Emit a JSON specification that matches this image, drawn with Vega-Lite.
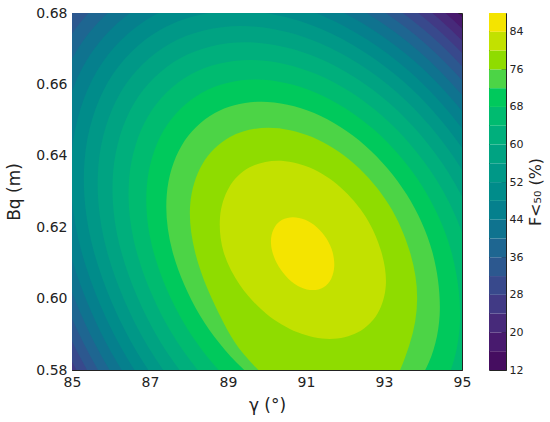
{
  "$schema": "https://vega.github.io/schema/vega-lite/v6.json",
  "padding": {"left": 5, "top": 5, "right": 3, "bottom": 5},
  "background": "white",
  "config": {
    "font": "DejaVu Sans",
    "view": {"stroke": "#222222", "strokeWidth": 1},
    "axis": {
      "grid": false,
      "domain": false,
      "tickColor": "#222222",
      "tickSize": -5,
      "labelColor": "#222222",
      "titleColor": "#222222",
      "labelFont": "DejaVu Sans",
      "titleFont": "DejaVu Sans",
      "labelFontSize": 14,
      "titleFontSize": 17,
      "titleFontWeight": "normal",
      "labelFlush": false,
      "labelOverlap": false
    }
  },
  "spacing": 16,
  "resolve": {"scale": {"color": "independent"}},
  "hconcat": [
    {
      "width": 390,
      "height": 357,
      "view": {"fill": "#450d60", "stroke": "#222222"},
      "data": {"values": [
        {"L":16,"k":0,"x":98.660,"y":0.61305},{"L":16,"k":1,"x":97.131,"y":0.65056},{"L":16,"k":2,"x":94.655,"y":0.68235},{"L":16,"k":3,"x":91.609,"y":0.70360},{"L":16,"k":4,"x":88.457,"y":0.71106},{"L":16,"k":5,"x":85.678,"y":0.70360},{"L":16,"k":6,"x":83.696,"y":0.68235},{"L":16,"k":7,"x":82.812,"y":0.65056},{"L":16,"k":8,"x":83.160,"y":0.61305},{"L":16,"k":9,"x":84.776,"y":0.57207},{"L":16,"k":10,"x":87.325,"y":0.53733},{"L":16,"k":11,"x":90.421,"y":0.51412},{"L":16,"k":12,"x":93.590,"y":0.50596},{"L":16,"k":13,"x":96.352,"y":0.51412},{"L":16,"k":14,"x":98.285,"y":0.53733},{"L":16,"k":15,"x":99.095,"y":0.57207},
        {"L":20,"k":0,"x":98.430,"y":0.61305},{"L":20,"k":1,"x":96.947,"y":0.64945},{"L":20,"k":2,"x":94.544,"y":0.68030},{"L":20,"k":3,"x":91.589,"y":0.70092},{"L":20,"k":4,"x":88.529,"y":0.70816},{"L":20,"k":5,"x":85.833,"y":0.70092},{"L":20,"k":6,"x":83.909,"y":0.68030},{"L":20,"k":7,"x":83.051,"y":0.64945},{"L":20,"k":8,"x":83.390,"y":0.61305},{"L":20,"k":9,"x":84.957,"y":0.57328},{"L":20,"k":10,"x":87.431,"y":0.53956},{"L":20,"k":11,"x":90.435,"y":0.51704},{"L":20,"k":12,"x":93.511,"y":0.50913},{"L":20,"k":13,"x":96.191,"y":0.51704},{"L":20,"k":14,"x":98.067,"y":0.53956},{"L":20,"k":15,"x":98.853,"y":0.57328},
        {"L":24,"k":0,"x":98.194,"y":0.61305},{"L":24,"k":1,"x":96.757,"y":0.64830},{"L":24,"k":2,"x":94.430,"y":0.67819},{"L":24,"k":3,"x":91.567,"y":0.69816},{"L":24,"k":4,"x":88.604,"y":0.70517},{"L":24,"k":5,"x":85.992,"y":0.69816},{"L":24,"k":6,"x":84.129,"y":0.67819},{"L":24,"k":7,"x":83.298,"y":0.64830},{"L":24,"k":8,"x":83.626,"y":0.61305},{"L":24,"k":9,"x":85.144,"y":0.57453},{"L":24,"k":10,"x":87.541,"y":0.54187},{"L":24,"k":11,"x":90.450,"y":0.52006},{"L":24,"k":12,"x":93.429,"y":0.51239},{"L":24,"k":13,"x":96.025,"y":0.52006},{"L":24,"k":14,"x":97.842,"y":0.54187},{"L":24,"k":15,"x":98.604,"y":0.57453},
        {"L":28,"k":0,"x":97.950,"y":0.61305},{"L":28,"k":1,"x":96.561,"y":0.64712},{"L":28,"k":2,"x":94.312,"y":0.67601},{"L":28,"k":3,"x":91.545,"y":0.69531},{"L":28,"k":4,"x":88.682,"y":0.70208},{"L":28,"k":5,"x":86.157,"y":0.69531},{"L":28,"k":6,"x":84.356,"y":0.67601},{"L":28,"k":7,"x":83.553,"y":0.64712},{"L":28,"k":8,"x":83.870,"y":0.61305},{"L":28,"k":9,"x":85.338,"y":0.57582},{"L":28,"k":10,"x":87.654,"y":0.54426},{"L":28,"k":11,"x":90.465,"y":0.52317},{"L":28,"k":12,"x":93.345,"y":0.51577},{"L":28,"k":13,"x":95.853,"y":0.52317},{"L":28,"k":14,"x":97.610,"y":0.54426},{"L":28,"k":15,"x":98.346,"y":0.57582},
        {"L":32,"k":0,"x":97.697,"y":0.61305},{"L":32,"k":1,"x":96.358,"y":0.64590},{"L":32,"k":2,"x":94.190,"y":0.67375},{"L":32,"k":3,"x":91.522,"y":0.69235},{"L":32,"k":4,"x":88.762,"y":0.69888},{"L":32,"k":5,"x":86.328,"y":0.69235},{"L":32,"k":6,"x":84.592,"y":0.67375},{"L":32,"k":7,"x":83.818,"y":0.64590},{"L":32,"k":8,"x":84.123,"y":0.61305},{"L":32,"k":9,"x":85.538,"y":0.57716},{"L":32,"k":10,"x":87.771,"y":0.54673},{"L":32,"k":11,"x":90.481,"y":0.52640},{"L":32,"k":12,"x":93.257,"y":0.51926},{"L":32,"k":13,"x":95.676,"y":0.52640},{"L":32,"k":14,"x":97.369,"y":0.54673},{"L":32,"k":15,"x":98.079,"y":0.57716},
        {"L":36,"k":0,"x":97.434,"y":0.61305},{"L":36,"k":1,"x":96.147,"y":0.64463},{"L":36,"k":2,"x":94.063,"y":0.67140},{"L":36,"k":3,"x":91.499,"y":0.68928},{"L":36,"k":4,"x":88.845,"y":0.69556},{"L":36,"k":5,"x":86.505,"y":0.68928},{"L":36,"k":6,"x":84.836,"y":0.67140},{"L":36,"k":7,"x":84.092,"y":0.64463},{"L":36,"k":8,"x":84.386,"y":0.61305},{"L":36,"k":9,"x":85.746,"y":0.57855},{"L":36,"k":10,"x":87.892,"y":0.54930},{"L":36,"k":11,"x":90.498,"y":0.52976},{"L":36,"k":12,"x":93.166,"y":0.52289},{"L":36,"k":13,"x":95.491,"y":0.52976},{"L":36,"k":14,"x":97.119,"y":0.54930},{"L":36,"k":15,"x":97.801,"y":0.57855},
        {"L":40,"k":0,"x":97.161,"y":0.61305},{"L":40,"k":1,"x":95.928,"y":0.64330},{"L":40,"k":2,"x":93.931,"y":0.66895},{"L":40,"k":3,"x":91.474,"y":0.68608},{"L":40,"k":4,"x":88.931,"y":0.69210},{"L":40,"k":5,"x":86.690,"y":0.68608},{"L":40,"k":6,"x":85.091,"y":0.66895},{"L":40,"k":7,"x":84.378,"y":0.64330},{"L":40,"k":8,"x":84.660,"y":0.61305},{"L":40,"k":9,"x":85.963,"y":0.58000},{"L":40,"k":10,"x":88.019,"y":0.55197},{"L":40,"k":11,"x":90.515,"y":0.53325},{"L":40,"k":12,"x":93.072,"y":0.52668},{"L":40,"k":13,"x":95.299,"y":0.53325},{"L":40,"k":14,"x":96.858,"y":0.55197},{"L":40,"k":15,"x":97.512,"y":0.58000},
        {"L":44,"k":0,"x":96.874,"y":0.61305},{"L":44,"k":1,"x":95.698,"y":0.64192},{"L":44,"k":2,"x":93.792,"y":0.66639},{"L":44,"k":3,"x":91.448,"y":0.68274},{"L":44,"k":4,"x":89.022,"y":0.68848},{"L":44,"k":5,"x":86.883,"y":0.68274},{"L":44,"k":6,"x":85.358,"y":0.66639},{"L":44,"k":7,"x":84.677,"y":0.64192},{"L":44,"k":8,"x":84.946,"y":0.61305},{"L":44,"k":9,"x":86.189,"y":0.58151},{"L":44,"k":10,"x":88.151,"y":0.55477},{"L":44,"k":11,"x":90.533,"y":0.53691},{"L":44,"k":12,"x":92.973,"y":0.53063},{"L":44,"k":13,"x":95.098,"y":0.53691},{"L":44,"k":14,"x":96.586,"y":0.55477},{"L":44,"k":15,"x":97.210,"y":0.58151},
        {"L":48,"k":0,"x":96.573,"y":0.61305},{"L":48,"k":1,"x":95.456,"y":0.64046},{"L":48,"k":2,"x":93.647,"y":0.66370},{"L":48,"k":3,"x":91.421,"y":0.67922},{"L":48,"k":4,"x":89.117,"y":0.68467},{"L":48,"k":5,"x":87.087,"y":0.67922},{"L":48,"k":6,"x":85.638,"y":0.66370},{"L":48,"k":7,"x":84.992,"y":0.64046},{"L":48,"k":8,"x":85.247,"y":0.61305},{"L":48,"k":9,"x":86.427,"y":0.58310},{"L":48,"k":10,"x":88.290,"y":0.55771},{"L":48,"k":11,"x":90.552,"y":0.54075},{"L":48,"k":12,"x":92.869,"y":0.53479},{"L":48,"k":13,"x":94.887,"y":0.54075},{"L":48,"k":14,"x":96.300,"y":0.55771},{"L":48,"k":15,"x":96.892,"y":0.58310},
        {"L":52,"k":0,"x":96.256,"y":0.61305},{"L":52,"k":1,"x":95.201,"y":0.63892},{"L":52,"k":2,"x":93.493,"y":0.66085},{"L":52,"k":3,"x":91.392,"y":0.67551},{"L":52,"k":4,"x":89.218,"y":0.68066},{"L":52,"k":5,"x":87.301,"y":0.67551},{"L":52,"k":6,"x":85.934,"y":0.66085},{"L":52,"k":7,"x":85.324,"y":0.63892},{"L":52,"k":8,"x":85.564,"y":0.61305},{"L":52,"k":9,"x":86.679,"y":0.58478},{"L":52,"k":10,"x":88.437,"y":0.56082},{"L":52,"k":11,"x":90.572,"y":0.54481},{"L":52,"k":12,"x":92.759,"y":0.53918},{"L":52,"k":13,"x":94.664,"y":0.54481},{"L":52,"k":14,"x":95.997,"y":0.56082},{"L":52,"k":15,"x":96.556,"y":0.58478},
        {"L":56,"k":0,"x":95.918,"y":0.61305},{"L":56,"k":1,"x":94.930,"y":0.63729},{"L":56,"k":2,"x":93.330,"y":0.65783},{"L":56,"k":3,"x":91.362,"y":0.67156},{"L":56,"k":4,"x":89.325,"y":0.67638},{"L":56,"k":5,"x":87.529,"y":0.67156},{"L":56,"k":6,"x":86.248,"y":0.65783},{"L":56,"k":7,"x":85.677,"y":0.63729},{"L":56,"k":8,"x":85.902,"y":0.61305},{"L":56,"k":9,"x":86.946,"y":0.58657},{"L":56,"k":10,"x":88.594,"y":0.56412},{"L":56,"k":11,"x":90.594,"y":0.54912},{"L":56,"k":12,"x":92.642,"y":0.54385},{"L":56,"k":13,"x":94.427,"y":0.54912},{"L":56,"k":14,"x":95.676,"y":0.56412},{"L":56,"k":15,"x":96.199,"y":0.58657},
        {"L":60,"k":0,"x":95.556,"y":0.61305},{"L":60,"k":1,"x":94.639,"y":0.63553},{"L":60,"k":2,"x":93.155,"y":0.65459},{"L":60,"k":3,"x":91.329,"y":0.66733},{"L":60,"k":4,"x":89.440,"y":0.67180},{"L":60,"k":5,"x":87.774,"y":0.66733},{"L":60,"k":6,"x":86.585,"y":0.65459},{"L":60,"k":7,"x":86.055,"y":0.63553},{"L":60,"k":8,"x":86.265,"y":0.61305},{"L":60,"k":9,"x":87.233,"y":0.58848},{"L":60,"k":10,"x":88.761,"y":0.56766},{"L":60,"k":11,"x":90.617,"y":0.55374},{"L":60,"k":12,"x":92.517,"y":0.54886},{"L":60,"k":13,"x":94.172,"y":0.55374},{"L":60,"k":14,"x":95.331,"y":0.56766},{"L":60,"k":15,"x":95.817,"y":0.58848},
        {"L":64,"k":0,"x":95.162,"y":0.61305},{"L":64,"k":1,"x":94.324,"y":0.63363},{"L":64,"k":2,"x":92.965,"y":0.65108},{"L":64,"k":3,"x":91.294,"y":0.66274},{"L":64,"k":4,"x":89.564,"y":0.66683},{"L":64,"k":5,"x":88.039,"y":0.66274},{"L":64,"k":6,"x":86.951,"y":0.65108},{"L":64,"k":7,"x":86.466,"y":0.63363},{"L":64,"k":8,"x":86.658,"y":0.61305},{"L":64,"k":9,"x":87.544,"y":0.59056},{"L":64,"k":10,"x":88.943,"y":0.57150},{"L":64,"k":11,"x":90.641,"y":0.55876},{"L":64,"k":12,"x":92.381,"y":0.55429},{"L":64,"k":13,"x":93.896,"y":0.55876},{"L":64,"k":14,"x":94.957,"y":0.57150},{"L":64,"k":15,"x":95.402,"y":0.59056},
        {"L":68,"k":0,"x":94.729,"y":0.61305},{"L":68,"k":1,"x":93.976,"y":0.63153},{"L":68,"k":2,"x":92.756,"y":0.64720},{"L":68,"k":3,"x":91.255,"y":0.65767},{"L":68,"k":4,"x":89.701,"y":0.66135},{"L":68,"k":5,"x":88.332,"y":0.65767},{"L":68,"k":6,"x":87.355,"y":0.64720},{"L":68,"k":7,"x":86.919,"y":0.63153},{"L":68,"k":8,"x":87.091,"y":0.61305},{"L":68,"k":9,"x":87.887,"y":0.59285},{"L":68,"k":10,"x":89.144,"y":0.57573},{"L":68,"k":11,"x":90.669,"y":0.56429},{"L":68,"k":12,"x":92.231,"y":0.56028},{"L":68,"k":13,"x":93.592,"y":0.56429},{"L":68,"k":14,"x":94.544,"y":0.57573},{"L":68,"k":15,"x":94.944,"y":0.59285},
        {"L":72,"k":0,"x":94.240,"y":0.61305},{"L":72,"k":1,"x":93.583,"y":0.62917},{"L":72,"k":2,"x":92.519,"y":0.64283},{"L":72,"k":3,"x":91.210,"y":0.65196},{"L":72,"k":4,"x":89.856,"y":0.65516},{"L":72,"k":5,"x":88.662,"y":0.65196},{"L":72,"k":6,"x":87.810,"y":0.64283},{"L":72,"k":7,"x":87.430,"y":0.62917},{"L":72,"k":8,"x":87.580,"y":0.61305},{"L":72,"k":9,"x":88.274,"y":0.59544},{"L":72,"k":10,"x":89.370,"y":0.58051},{"L":72,"k":11,"x":90.700,"y":0.57054},{"L":72,"k":12,"x":92.062,"y":0.56704},{"L":72,"k":13,"x":93.248,"y":0.57054},{"L":72,"k":14,"x":94.079,"y":0.58051},{"L":72,"k":15,"x":94.427,"y":0.59544},
        {"L":76,"k":0,"x":93.665,"y":0.61305},{"L":76,"k":1,"x":93.122,"y":0.62638},{"L":76,"k":2,"x":92.241,"y":0.63769},{"L":76,"k":3,"x":91.159,"y":0.64524},{"L":76,"k":4,"x":90.038,"y":0.64789},{"L":76,"k":5,"x":89.050,"y":0.64524},{"L":76,"k":6,"x":88.345,"y":0.63769},{"L":76,"k":7,"x":88.031,"y":0.62638},{"L":76,"k":8,"x":88.155,"y":0.61305},{"L":76,"k":9,"x":88.650,"y":0.59850},{"L":76,"k":10,"x":89.400,"y":0.58450},{"L":76,"k":11,"x":90.600,"y":0.57300},{"L":76,"k":12,"x":91.900,"y":0.57000},{"L":76,"k":13,"x":93.050,"y":0.57400},{"L":76,"k":14,"x":93.650,"y":0.58700},{"L":76,"k":15,"x":93.850,"y":0.60000},
        {"L":80,"k":0,"x":92.933,"y":0.61305},{"L":80,"k":1,"x":92.534,"y":0.62284},{"L":80,"k":2,"x":91.888,"y":0.63114},{"L":80,"k":3,"x":91.093,"y":0.63669},{"L":80,"k":4,"x":90.270,"y":0.63863},{"L":80,"k":5,"x":89.544,"y":0.63669},{"L":80,"k":6,"x":89.027,"y":0.63114},{"L":80,"k":7,"x":88.796,"y":0.62284},{"L":80,"k":8,"x":88.887,"y":0.61305},{"L":80,"k":9,"x":89.309,"y":0.60373},{"L":80,"k":10,"x":89.974,"y":0.59583},{"L":80,"k":11,"x":90.782,"y":0.59055},{"L":80,"k":12,"x":91.610,"y":0.58870},{"L":80,"k":13,"x":92.331,"y":0.59055},{"L":80,"k":14,"x":92.835,"y":0.59583},{"L":80,"k":15,"x":93.047,"y":0.60373},
        {"L":84,"k":0,"x":91.681,"y":0.61305},{"L":84,"k":1,"x":91.529,"y":0.61678},{"L":84,"k":2,"x":91.283,"y":0.61995},{"L":84,"k":3,"x":90.980,"y":0.62206},{"L":84,"k":4,"x":90.666,"y":0.62280},{"L":84,"k":5,"x":90.389,"y":0.62206},{"L":84,"k":6,"x":90.192,"y":0.61995},{"L":84,"k":7,"x":90.104,"y":0.61678},{"L":84,"k":8,"x":90.139,"y":0.61305},{"L":84,"k":9,"x":90.300,"y":0.60897},{"L":84,"k":10,"x":90.553,"y":0.60552},{"L":84,"k":11,"x":90.861,"y":0.60321},{"L":84,"k":12,"x":91.177,"y":0.60239},{"L":84,"k":13,"x":91.451,"y":0.60321},{"L":84,"k":14,"x":91.644,"y":0.60552},{"L":84,"k":15,"x":91.724,"y":0.60897}
      ]},
      "mark": {"type": "line", "filled": true, "interpolate": "cardinal-closed", "clip": true, "strokeWidth": 0},
      "encoding": {
        "x": {
          "field": "x", "type": "quantitative",
          "scale": {"domain": [85, 95], "nice": false, "zero": false},
          "axis": {"values": [85, 87, 89, 91, 93, 95], "title": "γ (°)", "labelPadding": 10, "titlePadding": 8}
        },
        "y": {
          "field": "y", "type": "quantitative",
          "scale": {"domain": [0.58, 0.68], "nice": false, "zero": false},
          "axis": {"values": [0.58, 0.6, 0.62, 0.64, 0.66, 0.68], "format": ".2f", "title": "Bq (m)", "labelPadding": 10, "titlePadding": 12}
        },
        "order": {"field": "k", "type": "quantitative"},
        "color": {
          "field": "L", "type": "ordinal",
          "scale": {
            "domain": [12, 16, 20, 24, 28, 32, 36, 40, 44, 48, 52, 56, 60, 64, 68, 72, 76, 80, 84],
            "range": ["#450d60", "#481a6e", "#472a7a", "#413a85", "#38498c", "#2c588f", "#1e6691", "#0f738f", "#05808d", "#008c8a", "#009887", "#00a382", "#00af7c", "#00bb70", "#00c95c", "#4cd446", "#8fdc00", "#c2e100", "#f4e400"]
          },
          "legend": null
        }
      }
    },
    {
      "width": 17,
      "height": 357,
      "data": {"values": [
        {"L":12,"hi":16},{"L":16,"hi":20},{"L":20,"hi":24},{"L":24,"hi":28},{"L":28,"hi":32},{"L":32,"hi":36},{"L":36,"hi":40},{"L":40,"hi":44},{"L":44,"hi":48},{"L":48,"hi":52},{"L":52,"hi":56},{"L":56,"hi":60},{"L":60,"hi":64},{"L":64,"hi":68},{"L":68,"hi":72},{"L":72,"hi":76},{"L":76,"hi":80},{"L":80,"hi":84},{"L":84,"hi":88}
      ]},
      "mark": {"type": "rect"},
      "encoding": {
        "x": {"datum": 0, "type": "quantitative", "scale": {"domain": [0, 1], "nice": false, "zero": false}, "axis": null},
        "x2": {"datum": 1},
        "y": {
          "field": "L", "type": "quantitative",
          "scale": {"domain": [12, 88], "nice": false, "zero": false},
          "axis": {"orient": "right", "values": [12, 20, 28, 36, 44, 52, 60, 68, 76, 84], "title": "F<₅₀ (%)", "titleAngle": -90, "titleBaseline": "top", "titleFontSize": 16, "labelFontSize": 11, "labelPadding": 8, "titlePadding": 5}
        },
        "y2": {"field": "hi"},
        "color": {
          "field": "L", "type": "ordinal",
          "scale": {
            "domain": [12, 16, 20, 24, 28, 32, 36, 40, 44, 48, 52, 56, 60, 64, 68, 72, 76, 80, 84],
            "range": ["#450d60", "#481a6e", "#472a7a", "#413a85", "#38498c", "#2c588f", "#1e6691", "#0f738f", "#05808d", "#008c8a", "#009887", "#00a382", "#00af7c", "#00bb70", "#00c95c", "#4cd446", "#8fdc00", "#c2e100", "#f4e400"]
          },
          "legend": null
        }
      }
    }
  ]
}
